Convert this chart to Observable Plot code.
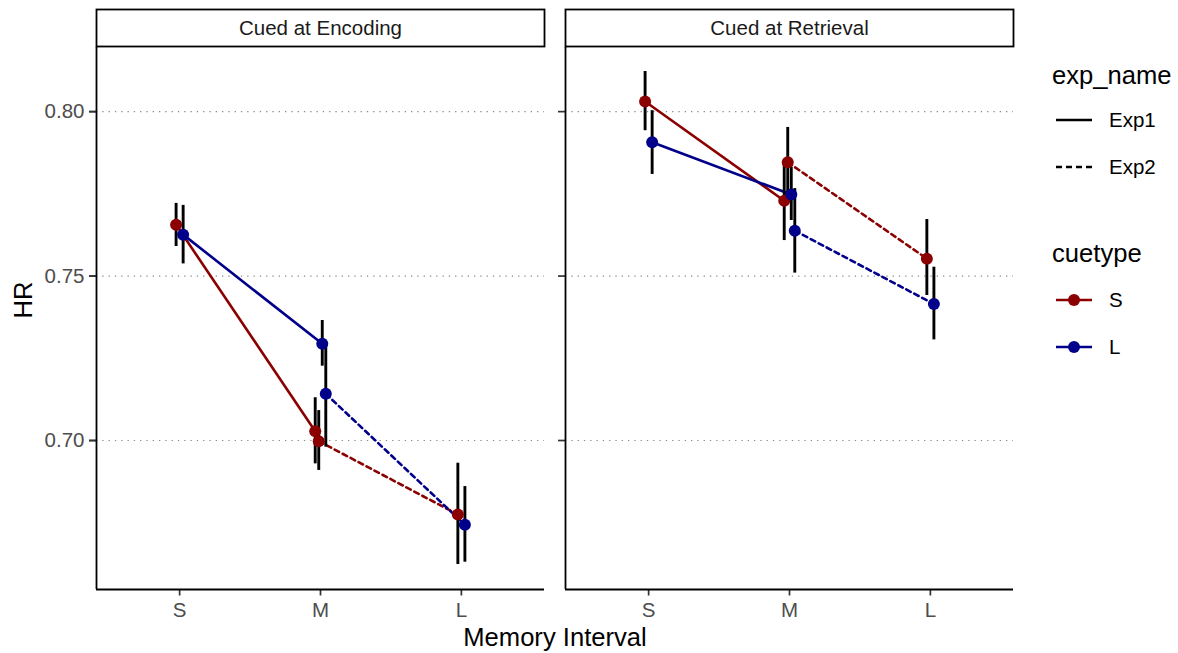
<!DOCTYPE html>
<html><head><meta charset="utf-8">
<script src="https://cdn.jsdelivr.net/npm/d3@7"></script>
<script src="https://cdn.jsdelivr.net/npm/@observablehq/plot@0.6"></script>
<style>
body{margin:0;background:#fff;font-family:"Liberation Sans",Arial,Helvetica,sans-serif;}
#wrap{position:relative;width:1178px;height:653px;overflow:hidden;}
#legend{position:absolute;left:0;top:0;}
.lg{position:absolute;white-space:nowrap;transform:translateY(-50%);color:#000;}
</style></head><body><div id="wrap"><div id="chart"></div><div id="legend"></div></div>
<script>
// ---- data ----
const panels = ["Cued at Encoding", "Cued at Retrieval"];
const intervals = ["S", "M", "L"];
const cuetypes = ["S", "L"];
const expNames = ["Exp1", "Exp2"];
const cueColors = ["#8B0000", "#00008B"];
const yTicks = [0.70, 0.75, 0.80];

const rowPanel = ["Cued at Encoding","Cued at Encoding","Cued at Encoding","Cued at Encoding","Cued at Encoding","Cued at Encoding","Cued at Encoding","Cued at Encoding",
                  "Cued at Retrieval","Cued at Retrieval","Cued at Retrieval","Cued at Retrieval","Cued at Retrieval","Cued at Retrieval","Cued at Retrieval","Cued at Retrieval"];
const rowCue      = ["S","L","S","S","L","L","S","L", "S","L","S","S","L","L","S","L"];
const rowExp      = ["Exp1","Exp1","Exp1","Exp2","Exp1","Exp2","Exp2","Exp2", "Exp1","Exp1","Exp1","Exp2","Exp1","Exp2","Exp2","Exp2"];
const rowInterval = ["S","S","M","M","M","M","L","L", "S","S","M","M","M","M","L","L"];
const hrMean = [0.7656,0.7626,0.7028,0.6998,0.7294,0.7142,0.6775,0.6744, 0.8031,0.7907,0.7729,0.7846,0.7748,0.7638,0.7553,0.7415];
const hrLow  = [0.7590,0.7537,0.6929,0.6909,0.7226,0.6980,0.6623,0.6630, 0.7942,0.7809,0.7608,0.7740,0.7669,0.7509,0.7441,0.7306];
const hrHigh = [0.7721,0.7715,0.7130,0.7091,0.7365,0.7289,0.6931,0.6860, 0.8122,0.8003,0.7851,0.7952,0.7831,0.7766,0.7672,0.7527];

// ---- layout ----
const W = 1178, H = 653;
const mL = 96, mR = 165, mT = 47, mB = 64;
const plotH = H - mT - mB;
const yDomain = [0.6547, 0.8195];
const xDomain = [0.41, 3.59];
const dodgeWidth = 0.1;
const font = '"Liberation Sans", Arial, Helvetica, sans-serif';

const data = hrMean.map((v, i) => ({
  panel: rowPanel[i], cue: rowCue[i], exp: rowExp[i], interval: rowInterval[i],
  hr: v, lo: hrLow[i], hi: hrHigh[i]
}));
// position_dodge-like offsets
for (const [, byInt] of d3.group(data, d => d.panel, d => d.interval)) {
  for (const [interval, g] of byInt) {
    g.sort((a, b) => (cuetypes.indexOf(a.cue) - cuetypes.indexOf(b.cue)) || (expNames.indexOf(a.exp) - expNames.indexOf(b.exp)));
    const n = g.length;
    g.forEach((d, k) => { d.xpos = intervals.indexOf(interval) + 1 + (k - (n - 1) / 2) * dodgeWidth / n; });
  }
}
const lineData = (e) => data.filter(d => d.exp === e).sort((a, b) => a.xpos - b.xpos);

const chart = Plot.plot({
  width: W, height: H,
  marginLeft: mL, marginRight: mR, marginTop: mT, marginBottom: mB,
  style: {fontFamily: font, fontSize: "20.5px", background: "white", overflow: "visible"},
  fx: {domain: panels, paddingInner: 0.045, paddingOuter: 0, axis: null, label: null},
  x: {domain: xDomain, axis: null},
  y: {domain: yDomain, axis: null},
  color: {domain: cuetypes, range: cueColors},
  marks: [
    Plot.frame({fill: "white", stroke: "black", strokeWidth: 1.8, insetTop: -38, insetBottom: plotH + 1}),
    Plot.text(panels, {fx: d => d, text: d => d, frameAnchor: "top", lineAnchor: "middle", dy: -19, fill: "#1A1A1A", fontSize: 20.5}),
    Plot.gridY(yTicks, {stroke: "#8a8a8a", strokeOpacity: 1, strokeDasharray: "1.3,5", strokeWidth: 1.2}),
    Plot.axisY({ticks: yTicks, tickFormat: d3.format(".2f"), tickSize: 7, tickPadding: 5, fill: "#4D4D4D", stroke: "#333", strokeWidth: 1.7, fontSize: 20.5, label: null}),
    Plot.axisY({ticks: yTicks, tickFormat: () => "", tickSize: 7, stroke: "#333", strokeWidth: 1.7, facetAnchor: null, label: null}),
    Plot.axisX({ticks: [1, 2, 3], tickFormat: d => intervals[d - 1], tickSize: 6.5, tickPadding: 6.5, fill: "#4D4D4D", stroke: "#333", strokeWidth: 1.7, fontSize: 20.5, label: null}),
    Plot.ruleX([xDomain[0]], {stroke: "black", strokeWidth: 1.8}),
    Plot.ruleY([yDomain[0]], {stroke: "black", strokeWidth: 1.8}),
    Plot.line(lineData("Exp1"), {fx: "panel", x: "xpos", y: "hr", stroke: "cue", z: "cue", strokeWidth: 2.6}),
    Plot.line(lineData("Exp2"), {fx: "panel", x: "xpos", y: "hr", stroke: "cue", z: "cue", strokeWidth: 2.6, strokeDasharray: "5,4"}),
    Plot.ruleX(data, {fx: "panel", x: "xpos", y1: "lo", y2: "hi", stroke: "black", strokeWidth: 2.9}),
    Plot.dot(data, {fx: "panel", x: "xpos", y: "hr", fill: "cue", r: 6}),
    Plot.text(["Memory Interval"], {facet: "super", text: d => d, frameAnchor: "bottom", lineAnchor: "middle", dy: 48, fontSize: 25.6, fill: "black"}),
    Plot.text(["HR"], {facet: "super", text: d => d, frameAnchor: "left", lineAnchor: "middle", dx: -72.6, rotate: -90, fontSize: 25.6, fill: "black"})
  ]
});
document.getElementById("chart").append(chart);

// ---- legend ----
const lg = d3.select("#legend");
const lx = 1052, keyX = 1056, keyW = 36, labX = 1109;
function title(t, cy) {
  lg.append("div").attr("class", "lg").style("left", lx + "px").style("top", cy + "px")
    .style("font-size", "25.6px").text(t);
}
function item(label, cy, stroke, dash, dot) {
  const s = lg.append("svg").attr("width", keyW + 4).attr("height", 16)
    .style("position", "absolute").style("left", (keyX - 2) + "px").style("top", (cy - 8) + "px");
  s.append("line").attr("x1", 2).attr("x2", keyW + 2).attr("y1", 8).attr("y2", 8)
    .attr("stroke", stroke).attr("stroke-width", 2.6).attr("stroke-dasharray", dash);
  if (dot) s.append("circle").attr("cx", keyW / 2 + 2).attr("cy", 8).attr("r", 6).attr("fill", stroke);
  lg.append("div").attr("class", "lg").style("left", labX + "px").style("top", cy + "px")
    .style("font-size", "20.5px").text(label);
}
title("exp_name", 75);
expNames.forEach((e, i) => item(e, 120 + i * 47, "black", i === 0 ? null : "6,4", false));
title("cuetype", 253);
cuetypes.forEach((c, i) => item(c, 300 + i * 47, cueColors[i], null, true));
</script></body></html>
